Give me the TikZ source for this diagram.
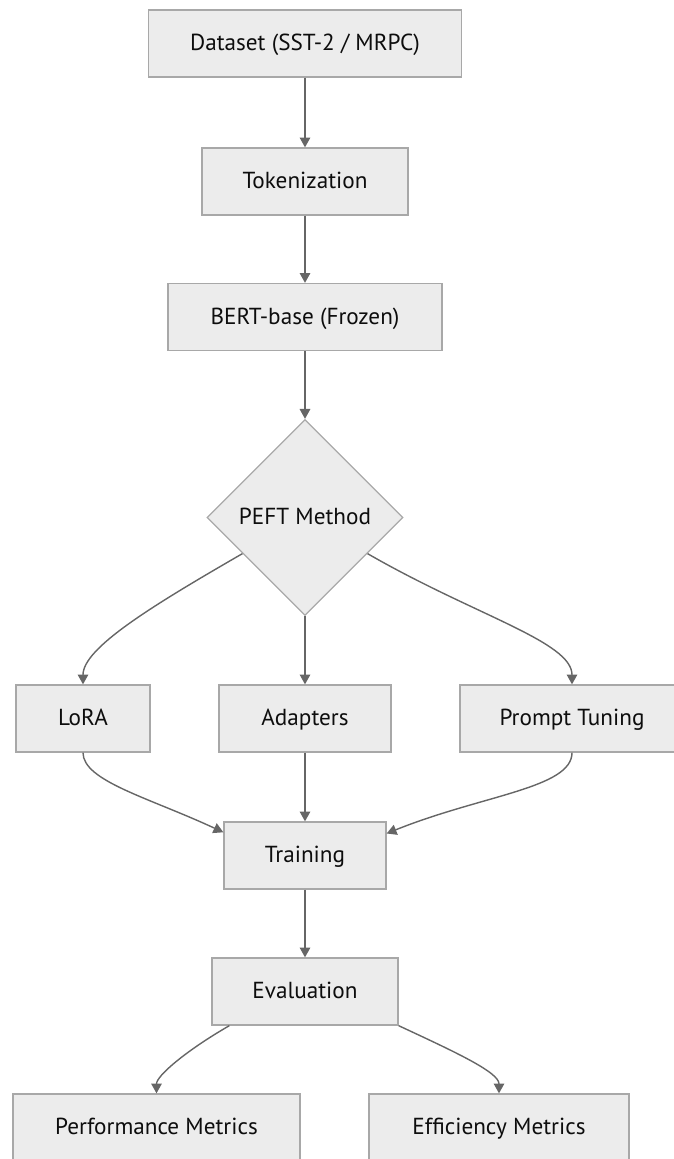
\documentclass[tikz,border=0pt]{standalone}
\usepackage{fontspec}
\setmainfont{PT Sans}
\usetikzlibrary{arrows.meta, shapes.geometric}

\definecolor{boxfill}{HTML}{ECECEC}
\definecolor{boxline}{HTML}{A8A8A8}
\definecolor{arrowcol}{HTML}{666666}

\tikzset{
  flowbox/.style={draw=boxline, fill=boxfill, line width=0.9pt, minimum height=1.675cm,
                  inner sep=0pt, text height=2.4ex, text depth=0.35ex,
                  font=\fontsize{16.5}{19}\selectfont, text=black!95},
  decision/.style={flowbox, diamond, aspect=1, minimum width=4.9cm, minimum height=4.9cm},
  flowarrow/.style={draw=arrowcol, line width=1pt, -{Triangle[width=7.5pt,length=7pt]}},
  splitcurve/.style={out looseness=1.3, in looseness=0.45},
  joincurve/.style={out looseness=0.45, in looseness=1.3}
}

\begin{document}
\begin{tikzpicture}[x=0.025cm, y=-0.025cm]
\useasboundingbox (0,0) rectangle (673,1159);

% pipeline
\node[flowbox, minimum width=7.825cm] (data) at (305, 43.5) {Dataset (SST-2 / MRPC)};
\node[flowbox, minimum width=5.15cm] (tok) at (305, 181.5) {Tokenization};
\node[flowbox, minimum width=6.85cm] (bert) at (305, 317) {BERT-base (Frozen)};
\node[decision] (peft) at (305, 517.5) {PEFT Method};

% methods
\node[flowbox, minimum width=3.35cm] (lora) at (83, 718.5) {LoRA};
\node[flowbox, minimum width=4.3cm] (adapt) at (305, 718.5) {Adapters};
\node[flowbox, minimum width=5.6cm] (prompt) at (572, 718.5) {Prompt Tuning};

\node[flowbox, minimum width=4.05cm] (train) at (305, 855.5) {Training};
\node[flowbox, minimum width=4.65cm] (eval) at (305, 991.5) {Evaluation};

% metrics
\node[flowbox, minimum width=7.175cm] (perf) at (156.5, 1127.5) {Performance Metrics};
\node[flowbox, minimum width=6.5cm] (eff) at (499, 1127.5) {Efficiency Metrics};

\draw[flowarrow] (data) -- (tok);
\draw[flowarrow] (tok) -- (bert);
\draw[flowarrow] (bert) -- (peft);
\draw[flowarrow] (peft) to[out=210, in=90, splitcurve] (lora.north);
\draw[flowarrow] (peft) -- (adapt);
\draw[flowarrow] (peft) to[out=-30, in=90, splitcurve] (prompt.north);
\draw[flowarrow] (lora.south) to[out=-90, in=155, joincurve] ([yshift=0.58cm]train.west);
\draw[flowarrow] (adapt) -- (train);
\draw[flowarrow] (prompt.south) to[out=-90, in=22, joincurve] ([yshift=0.55cm]train.east);
\draw[flowarrow] (train) -- (eval);
\draw[flowarrow] ([xshift=0.45cm]eval.south west) to[out=-150, in=90, splitcurve] (perf.north);
\draw[flowarrow] (eval.south east) to[out=-25, in=90, splitcurve] (eff.north);
\end{tikzpicture}
\end{document}
